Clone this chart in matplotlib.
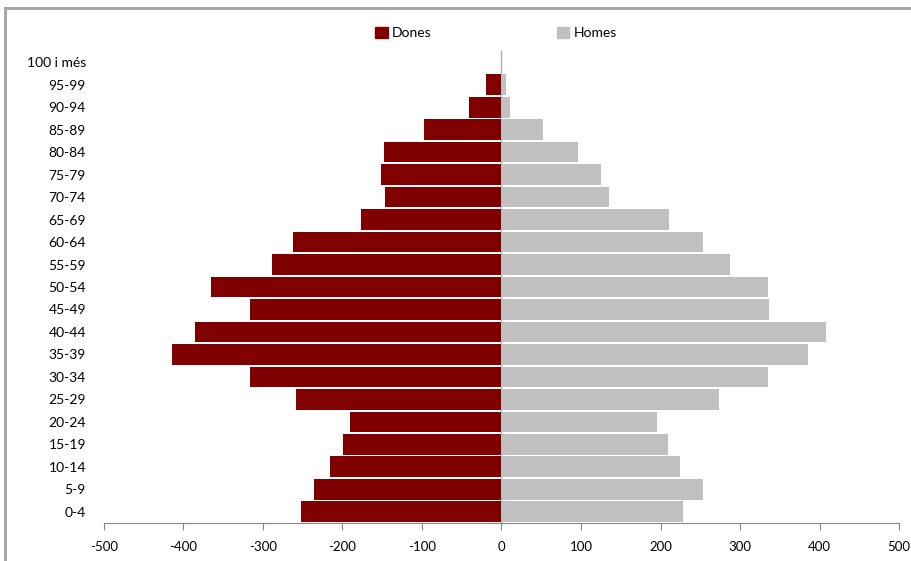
import matplotlib
matplotlib.use("Agg")
import matplotlib.pyplot as plt
from matplotlib.patches import Patch, Rectangle

age_groups = ["0-4", "5-9", "10-14", "15-19", "20-24", "25-29", "30-34", "35-39",
              "40-44", "45-49", "50-54", "55-59", "60-64", "65-69", "70-74",
              "75-79", "80-84", "85-89", "90-94", "95-99", "100 i més"]
dones = [-252, -236, -216, -199, -190, -259, -316, -414, -385, -316, -366,
         -289, -262, -177, -146, -151, -148, -97, -41, -20, 0]
homes = [228, 253, 225, 210, 195, 273, 335, 385, 408, 337, 335,
         287, 253, 211, 135, 125, 96, 52, 11, 6, 0]
x_ticks = [-500, -400, -300, -200, -100, 0, 100, 200, 300, 400, 500]

plt.rcParams['font.family'] = ['Lato', 'DejaVu Sans']

fig = plt.figure(figsize=(9.12, 5.61), dpi=100)
ax = fig.add_axes([104/912, 1-523/561, (899-104)/912, (523-51)/561])

red = '#800000'
grey = '#c0c0c0'
y = list(range(len(age_groups)))
ax.axvline(0, color='#b0b0b0', lw=1, zorder=0)
ax.barh(y, dones, height=0.92, color=red, zorder=2, label='Dones')
ax.barh(y, homes, height=0.92, color=grey, zorder=2, label='Homes')

ax.set_xlim(-500, 500)
ax.set_ylim(-0.5, len(age_groups) - 0.5)
ax.set_xticks(x_ticks)
ax.set_xticklabels([str(v) for v in x_ticks], fontsize=9.5)
ax.set_yticks(y)
ax.set_yticklabels(age_groups, fontsize=10)
ax.tick_params(axis='y', length=0, pad=13)
ax.tick_params(axis='x', direction='out', length=5, color='#868686', pad=8)
for s in ['top', 'right', 'left']:
    ax.spines[s].set_visible(False)
ax.spines['bottom'].set_color('#868686')

handles = [Patch(color=red), Patch(color=grey)]
fig.legend(handles, ['Dones', 'Homes'], loc='center', bbox_to_anchor=(496/912, 1-33/561),
           ncol=2, frameon=False, fontsize=10, handlelength=0.9, handleheight=0.9,
           handletextpad=0.3, columnspacing=9.0, borderaxespad=0)

# outer chart frame (clipped by the image edges)
W, H = 912, 561
fig.patches.append(Rectangle((4.5/W, 0), 2.5/W, 1 - 7.5/H, transform=fig.transFigure,
                             facecolor='#a6a6a6', edgecolor='none'))
fig.patches.append(Rectangle((4.5/W, 1 - 10/H), 1, 2.5/H, transform=fig.transFigure,
                             facecolor='#a6a6a6', edgecolor='none'))

fig.savefig('out.png', dpi=100)
